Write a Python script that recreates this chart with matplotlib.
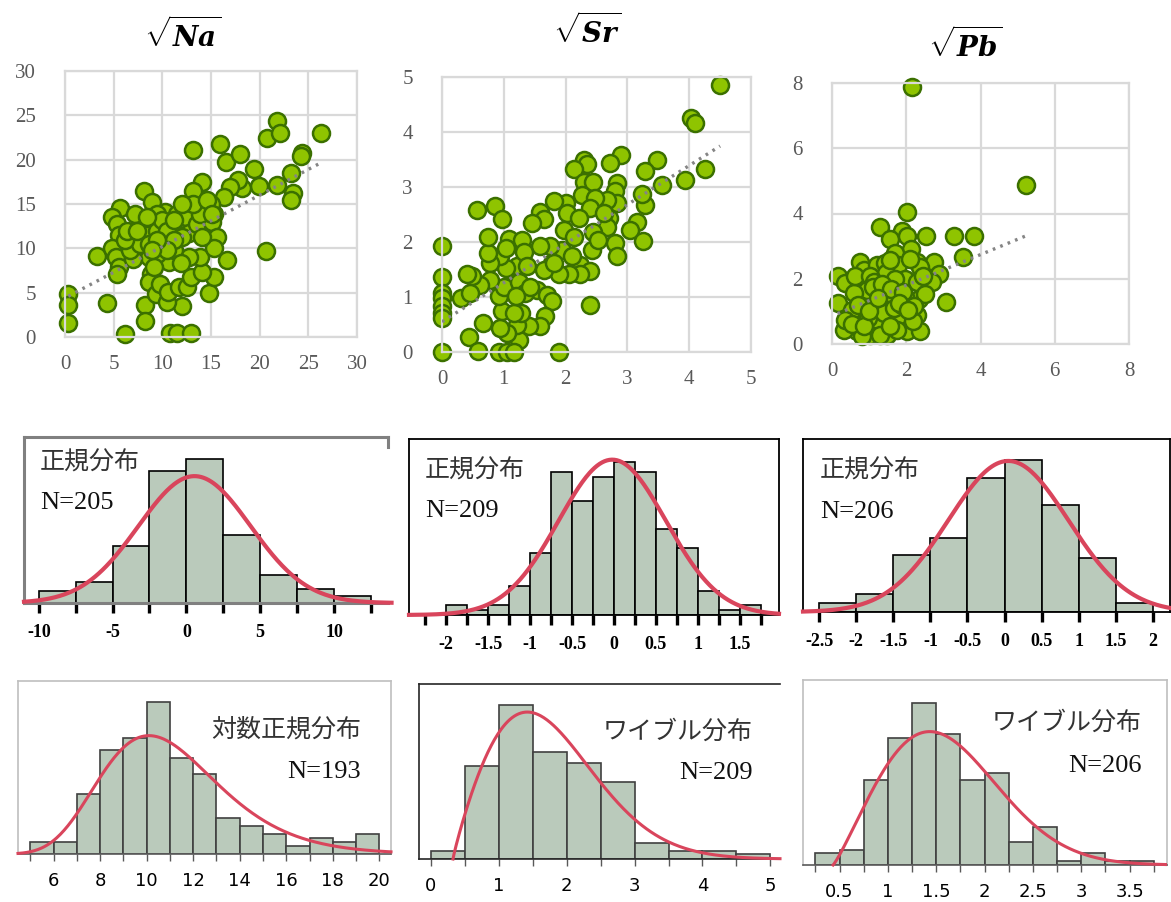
import numpy as np
import matplotlib.pyplot as plt
from matplotlib.ticker import FixedLocator

plt.rcParams["mathtext.fontset"] = "custom"
plt.rcParams["mathtext.it"] = "DejaVu Serif:italic:bold"
plt.rcParams["mathtext.rm"] = "DejaVu Serif:bold"

FIG_W, FIG_H = 1171, 902
JP = ["Noto Sans CJK JP", "DejaVu Sans"]
SERIF = "Liberation Serif"

# ---- scatter data ----
na_x = [0.34, 0.34, 0.34, 6.2, 4.3, 3.3, 8.2, 8.2, 10.8, 11.5, 12.9, 12.0, 14.8, 13.2, 15.9,
        16.5, 17.97, 19.4, 20.8, 21.8, 22.1, 26.3, 24.4, 24.2, 23.2, 23.4, 23.2, 21.75, 19.9,
        20.6, 18.2, 17.8, 17.0, 16.3, 15.3, 16.6, 15.3, 14.1, 13.2, 8.1, 8.9, 5.7, 4.8, 5.3,
        5.5, 4.8, 5.2, 5.5, 5.3, 7.2, 7.2, 7.9, 8.4, 8.6, 8.8, 8.6, 9.4, 9.8, 10.5, 10.6, 11.7,
        12.5, 12.9, 14.1, 13.9, 12.7, 10.7, 11.2, 10.1, 11.2, 10.3, 9.45, 11.5, 12.5, 12.4,
        12.7, 13.6, 14.3, 14.96, 15.1, 15.6, 15.3, 14.1, 13.9, 12.0, 11.9, 9.45, 9.1, 7.0, 6.7,
        7.7, 9.45, 8.6, 6.2, 6.4, 7.4, 9.96, 10.5, 11.2, 10.5, 9.45, 13.1, 12.0, 14.6, 15.1,
        8.9, 8.4, 11.2]
na_y = [4.9, 3.6, 1.6, 0.3, 3.8, 9.1, 3.6, 1.8, 0.4, 0.4, 0.4, 3.5, 5.0, 21.1, 21.8,
        19.7, 20.6, 18.9, 22.4, 24.4, 23.0, 23.0, 20.8, 20.4, 18.5, 16.2, 15.4, 17.1, 17.0,
        9.7, 16.8, 17.7, 16.9, 15.8, 13.9, 8.7, 6.8, 17.5, 16.5, 16.5, 15.2, 14.5, 13.5, 12.7,
        11.5, 10.0, 9.0, 7.9, 7.1, 13.9, 10.5, 12.0, 11.5, 9.0, 7.1, 6.2, 4.9, 6.0, 3.9, 5.1, 5.6,
        5.6, 6.8, 7.3, 9.0, 9.0, 8.5, 9.8, 10.9, 12.0, 14.1, 13.9, 13.9, 14.7, 13.5,
        11.7, 12.8, 14.5, 15.0, 13.0, 11.3, 10.0, 11.3, 13.9, 11.3, 8.3, 9.4, 7.9, 8.8, 9.8,
        10.5, 12.0, 10.5, 10.9, 12.0, 12.0, 13.2, 12.0, 10.9, 9.8, 10.9, 15.0, 15.0, 15.4, 13.9,
        9.8, 13.5, 13.2]

sr_x = [4.50, 4.03, 4.10, 4.26, 3.94, 3.56, 3.48, 3.29, 3.29, 3.24, 3.16, 3.05, 3.26, 2.89,
        2.72, 2.83, 2.80, 2.83, 2.67, 2.70, 2.67, 2.80, 2.83, 2.29, 2.35, 2.13, 2.29, 2.45,
        2.27, 2.48, 2.40, 2.00, 1.81, 2.02, 2.21, 1.97, 2.13, 2.45, 2.43, 2.24, 2.40, 2.24,
        2.05, 1.89, 1.94, 1.78, 1.75, 1.59, 1.65, 1.46, 1.59, 1.65, 1.54, 1.70, 1.78, 1.67,
        1.59, 1.40, 1.24, 1.21, 1.28, 1.05, 0.94, 0.97, 1.16, 0.92, 1.00, 1.11, 1.21, 1.03,
        0.94, 0.78, 0.75, 0.75, 1.08, 1.03, 1.29, 1.32, 1.24, 1.35, 1.43, 1.38, 1.19, 0.78,
        0.62, 0.49, 0.40, 0.30, 0.46, 0.67, 0.44, 0.58, 0.0, 0.92, 1.05, 1.16, 1.89, 2.40,
        0.0, 0.0, 0.0, 0.0, 0.0, 0.0, 0.0, 0.57, 0.85, 0.97, 1.81, 2.10, 2.53, 2.62]
sr_y = [4.85, 4.25, 4.16, 3.32, 3.12, 3.04, 3.50, 3.30, 2.68, 2.88, 2.36, 2.22, 2.01, 3.59,
        3.44, 3.07, 2.92, 2.71, 2.77, 2.44, 2.28, 1.98, 1.74, 3.50, 3.41, 3.33, 3.10, 3.10,
        2.86, 2.80, 2.62, 2.71, 2.74, 2.52, 2.44, 2.22, 2.10, 2.19, 1.86, 1.59, 1.47, 1.41,
        1.41, 1.41, 1.86, 1.62, 1.92, 2.55, 2.41, 2.35, 1.92, 1.50, 1.13, 1.04, 0.92, 0.66,
        0.47, 0.47, 0.21, 0.50, 0.71, 0.35, 0.44, 0.74, 0.71, 1.01, 1.19, 1.47, 1.56, 1.53,
        1.74, 1.62, 1.80, 2.10, 2.05, 1.89, 2.04, 1.81, 1.28, 1.07, 1.19, 1.56, 1.01, 1.31,
        1.22, 1.38, 1.41, 0.98, 1.07, 0.53, 0.27, 0.01, 0.0, 0.0, 0.0, 0.0, 0.0, 0.86,
        1.92, 1.36, 1.07, 0.98, 0.83, 0.71, 0.62, 2.59, 2.65, 2.42, 1.62, 1.74, 2.04, 2.52]

pb_x = [2.15, 5.22, 2.03, 1.30, 1.88, 1.57, 2.02, 2.53, 3.29, 3.83, 2.12, 3.52, 1.70, 2.75,
        2.28, 1.79, 2.37, 2.89, 3.07, 2.69, 0.76, 0.85, 1.21, 1.43, 0.15, 0.36, 0.15, 0.72,
        1.30, 1.46, 1.97, 2.28, 2.33, 1.97, 1.66, 1.79, 2.28, 2.02, 2.37, 1.48, 1.21, 0.96,
        0.67, 0.31, 0.45, 0.54, 0.76, 0.94, 1.21, 1.39, 1.03, 0.81, 1.30, 1.66, 1.88, 2.51,
        2.46, 0.94, 0.58, 1.48, 0.36, 1.75, 2.19, 0.63, 1.03, 2.10, 1.57, 1.12, 1.70,
        0.55, 0.85, 1.10, 1.35, 1.60, 1.90, 2.20, 0.70, 1.00, 1.25, 1.55, 1.80, 2.05]
pb_y = [7.87, 4.86, 4.04, 3.58, 3.47, 3.22, 3.30, 3.30, 3.30, 3.30, 2.91, 2.68, 2.80, 2.50,
        2.52, 2.42, 2.35, 2.14, 1.29, 1.90, 2.52, 2.27, 2.42, 2.47, 2.09, 1.87, 1.26, 1.79,
        1.84, 2.19, 2.00, 1.90, 1.38, 1.43, 1.66, 0.85, 0.90, 0.39, 0.39, 0.29, 0.75, 0.80,
        0.39, 0.44, 0.75, 1.05, 1.36, 1.15, 1.36, 0.95, 0.29, 0.23, 0.29, 1.10, 1.20, 1.52,
        2.08, 1.66, 1.56, 1.56, 0.75, 0.44, 0.69, 2.09, 2.09, 2.62, 2.57, 1.89, 1.99,
        0.60, 0.55, 1.75, 1.85, 1.70, 1.60, 1.15, 1.20, 1.00, 1.40, 0.55, 1.25, 1.05]

# trend lines (slope, intercept)
na_trend = (0.58, 4.4)
sr_trend = (0.71, 0.55)
pb_trend = (0.47, 0.86)

# ---- histogram data ----
na_norm_start, na_norm_width = -10.0, 2.5
na_norm_counts = [5, 9, 24, 56, 61, 29, 12, 6, 3]
na_norm_fit = (0.55, 3.8)

sr_norm_start, sr_norm_width = -2.0, 0.25
sr_norm_counts = [2, 1, 2, 6, 13, 30, 24, 29, 32, 30, 18, 14, 5, 1, 2]
sr_norm_fit = (-0.02, 0.64)

pb_norm_start, pb_norm_width = -2.5, 0.5
pb_norm_counts = [3, 6, 19, 25, 45, 51, 36, 18, 3]
pb_norm_fit = (0.05, 0.81)

na_logn_start, na_logn_width = 5.0, 1.0
na_logn_counts = [3, 3, 15, 26, 29, 38, 24, 20, 9, 7, 5, 2, 4, 3, 5]
na_logn_fit = (2.375, 0.25)  # mu, sigma of ln(x)

sr_weib_start, sr_weib_width = 0.0, 0.5
sr_weib_counts = [3, 34, 56, 39, 35, 28, 6, 3, 3, 2]
sr_weib_fit = (1.9, 1.62, 0.33)  # shape, scale, location

pb_weib_start, pb_weib_width = 0.25, 0.25
pb_weib_counts = [3, 4, 22, 33, 42, 34, 22, 24, 6, 10, 1, 3, 1, 1]
pb_weib_fit = (2.15, 1.338, 0.433)

BAR_FILL = "#bacabb"
CURVE = "#d9455c"


def fig_box(x0, y0, x1, y1):
    return [x0 / FIG_W, 1 - y1 / FIG_H, (x1 - x0) / FIG_W, (y1 - y0) / FIG_H]


def fig_xy(x, y):
    return x / FIG_W, 1 - y / FIG_H


def normal_curve(x, mu, sd, n, width):
    return n * width * np.exp(-0.5 * ((x - mu) / sd) ** 2) / (sd * np.sqrt(2 * np.pi))


def lognormal_curve(x, mu, s, n, width):
    return n * width * np.exp(-(np.log(x) - mu) ** 2 / (2 * s * s)) / (x * s * np.sqrt(2 * np.pi))


def weibull_curve(x, k, lam, loc, n, width):
    t = np.clip((x - loc) / lam, 0, None)
    return n * width * (k / lam) * t ** (k - 1) * np.exp(-t ** k)


def scatter_panel(fig, box, xs, ys, trend, lim, step, title, title_pos):
    ax = fig.add_axes(box)
    ax.set_xlim(0, lim)
    ax.set_ylim(0, lim)
    ticks = np.arange(0, lim + step / 2, step)
    ax.set_xticks(ticks)
    ax.set_yticks(ticks)
    ax.set_xticklabels([f"{t:g}" for t in ticks])
    ax.set_yticklabels([f"{t:g}" for t in ticks])
    ax.grid(True, color="#d9d9d9", lw=1.6)
    ax.set_axisbelow(True)
    for spine in ax.spines.values():
        spine.set_color("#d9d9d9")
        spine.set_linewidth(1.6)
    ax.tick_params(axis="x", length=0, labelsize=15, labelcolor="#595959", pad=13)
    ax.tick_params(axis="y", length=0, labelsize=15, labelcolor="#595959", pad=21)
    for lbl in ax.get_xticklabels() + ax.get_yticklabels():
        lbl.set_family(SERIF)

    ax.scatter(xs, ys, s=150, c="#8fc400", edgecolors="#3b7000", linewidths=1.8,
               zorder=2, clip_on=False)
    slope, intercept = trend
    tx = np.array([min(xs), max(xs)])
    ax.plot(tx, intercept + slope * tx, color="#858585", lw=2.4, ls=(0, (0.8, 1.6)),
            zorder=3)
    fig.text(*fig_xy(*title_pos), title, ha="center", va="center", fontsize=20)
    return ax


def hist_panel(fig, box, start, width, counts, xlim, ytop, curve_x, curve_y,
               edge, curve_lw):
    ax = fig.add_axes(box)
    lefts = start + width * np.arange(len(counts))
    ax.bar(lefts, counts, width=width, align="edge", color=BAR_FILL,
           edgecolor=edge, linewidth=1.2, zorder=2)
    ax.plot(curve_x, curve_y, color=CURVE, lw=curve_lw, zorder=3, clip_on=False)
    ax.set_xlim(*xlim)
    ax.set_ylim(0, ytop)
    ax.set_yticks([])
    return ax


def middle_ticks(ax, majors, minors):
    ax.xaxis.set_major_locator(FixedLocator(majors))
    ax.xaxis.set_minor_locator(FixedLocator(minors))
    ax.set_xticklabels([f"{v:g}" for v in majors])
    ax.tick_params(axis="x", which="both", direction="out", length=7, width=2.4,
                   color="black")
    ax.tick_params(axis="x", which="major", labelsize=13, pad=8)
    for lbl in ax.get_xticklabels():
        lbl.set_family(SERIF)
        lbl.set_fontweight("bold")


def bottom_ticks(ax, majors, minors):
    ax.xaxis.set_major_locator(FixedLocator(majors))
    ax.xaxis.set_minor_locator(FixedLocator(minors))
    ax.set_xticklabels([f"{v:g}" for v in majors])
    ax.tick_params(axis="x", which="both", direction="out", length=5, width=1,
                   color="#595959")
    ax.tick_params(axis="x", which="major", labelsize=13, pad=8)


def frame(ax, color, lw, sides=("left", "right", "top", "bottom")):
    for name, spine in ax.spines.items():
        if name in sides:
            spine.set_color(color)
            spine.set_linewidth(lw)
        else:
            spine.set_visible(False)


fig = plt.figure(figsize=(FIG_W / 100, FIG_H / 100), dpi=100)

# ---- top row: scatter plots ----
scatter_panel(fig, fig_box(65, 71, 357, 337), na_x, na_y, na_trend, 30, 5,
              r"$\sqrt{Na}$", (183, 35))
scatter_panel(fig, fig_box(442, 77, 751, 352), sr_x, sr_y, sr_trend, 5, 1,
              r"$\sqrt{Sr}$", (587, 31))
scatter_panel(fig, fig_box(832, 83, 1129, 344), pb_x, pb_y, pb_trend, 8, 2,
              r"$\sqrt{Pb}$", (965, 45))

# ---- middle row: normal fits ----
xl = (-11.0, 13.66)
cx = np.linspace(xl[0], 13.9, 300)
ax4 = hist_panel(fig, fig_box(24, 437, 388, 603), na_norm_start, na_norm_width,
                 na_norm_counts, xl, 70.4, cx,
                 normal_curve(cx, *na_norm_fit, sum(na_norm_counts), na_norm_width),
                 "black", 3.0)
frame(ax4, "#808080", 2.2, ("left", "top", "bottom", "right"))
ax4.spines["right"].set_bounds(66, 70.4)
middle_ticks(ax4, [-10, -5, 0, 5, 10], [-7.5, -2.5, 2.5, 7.5, 12.5])

xl = (-2.445, 1.97)
cx = np.linspace(xl[0], xl[1], 300)
ax5 = hist_panel(fig, fig_box(409, 439, 779, 615), sr_norm_start, sr_norm_width,
                 sr_norm_counts, xl, 36.9, cx,
                 normal_curve(cx, *sr_norm_fit, sum(sr_norm_counts), sr_norm_width),
                 "black", 3.0)
frame(ax5, "black", 1.3)
middle_ticks(ax5, [-2, -1.5, -1, -0.5, 0, 0.5, 1, 1.5],
             [-2.25, -1.75, -1.25, -0.75, -0.25, 0.25, 0.75, 1.25, 1.75])

xl = (-2.716, 2.228)
cx = np.linspace(xl[0], xl[1], 300)
ax6 = hist_panel(fig, fig_box(803, 439, 1170, 612), pb_norm_start, pb_norm_width,
                 pb_norm_counts, xl, 58.1, cx,
                 normal_curve(cx, *pb_norm_fit, sum(pb_norm_counts), pb_norm_width),
                 "black", 3.0)
frame(ax6, "black", 1.3)
middle_ticks(ax6, [-2.5, -2, -1.5, -1, -0.5, 0, 0.5, 1, 1.5, 2], [])

for (x, y1, y2, n) in [(40, 463, 503, 205), (425, 471, 511, 209), (820, 471, 512, 206)]:
    fig.text(*fig_xy(x, y1), "正規分布", family=JP, fontsize=18, color="#333333",
             ha="left", va="center")
    fig.text(*fig_xy(x, y2), f"N={n}", family=SERIF, fontsize=19, color="#111111",
             ha="left", va="center")

# ---- bottom row: skewed fits ----
xl = (4.47, 20.5)
cx = np.linspace(xl[0], xl[1], 300)
ax7 = hist_panel(fig, fig_box(18, 681, 391, 854), na_logn_start, na_logn_width,
                 na_logn_counts, xl, 43.2, cx,
                 lognormal_curve(cx, *na_logn_fit, sum(na_logn_counts), na_logn_width),
                 "#404040", 2.2)
frame(ax7, "#bfbfbf", 1.2)
ax7.spines["bottom"].set_color("#595959")
bottom_ticks(ax7, [6, 8, 10, 12, 14, 16, 18, 20], [5, 7, 9, 11, 13, 15, 17, 19])

xl = (-0.17, 5.14)
cx = np.linspace(sr_weib_fit[2], xl[1], 300)
ax8 = hist_panel(fig, fig_box(419, 684, 780, 859), sr_weib_start, sr_weib_width,
                 sr_weib_counts, xl, 63.8, cx,
                 weibull_curve(cx, *sr_weib_fit, sum(sr_weib_counts), sr_weib_width),
                 "#404040", 2.2)
frame(ax8, "#262626", 1.2, ("left", "top", "bottom"))
bottom_ticks(ax8, [0, 1, 2, 3, 4, 5], [0.5, 1.5, 2.5, 3.5, 4.5])

xl = (0.122, 3.886)
cx = np.linspace(pb_weib_fit[2], 3.87, 300)
ax9 = hist_panel(fig, fig_box(803, 680, 1167, 865), pb_weib_start, pb_weib_width,
                 pb_weib_counts, xl, 48.1, cx,
                 weibull_curve(cx, *pb_weib_fit, sum(pb_weib_counts), pb_weib_width),
                 "#404040", 2.2)
frame(ax9, "#bfbfbf", 1.2)
ax9.spines["bottom"].set_color("#595959")
bottom_ticks(ax9, [0.5, 1, 1.5, 2, 2.5, 3, 3.5], [0.25, 0.75, 1.25, 1.75, 2.25, 2.75, 3.25, 3.75])

for (x, y1, y2, label, n) in [(361, 730, 772, "対数正規分布", 193),
                              (753, 732, 773, "ワイブル分布", 209),
                              (1142, 723, 766, "ワイブル分布", 206)]:
    fig.text(*fig_xy(x, y1), label, family=JP, fontsize=18, color="#333333",
             ha="right", va="center")
    fig.text(*fig_xy(x, y2), f"N={n}", family=SERIF, fontsize=19, color="#111111",
             ha="right", va="center")

fig.savefig("out.png", dpi=100)
